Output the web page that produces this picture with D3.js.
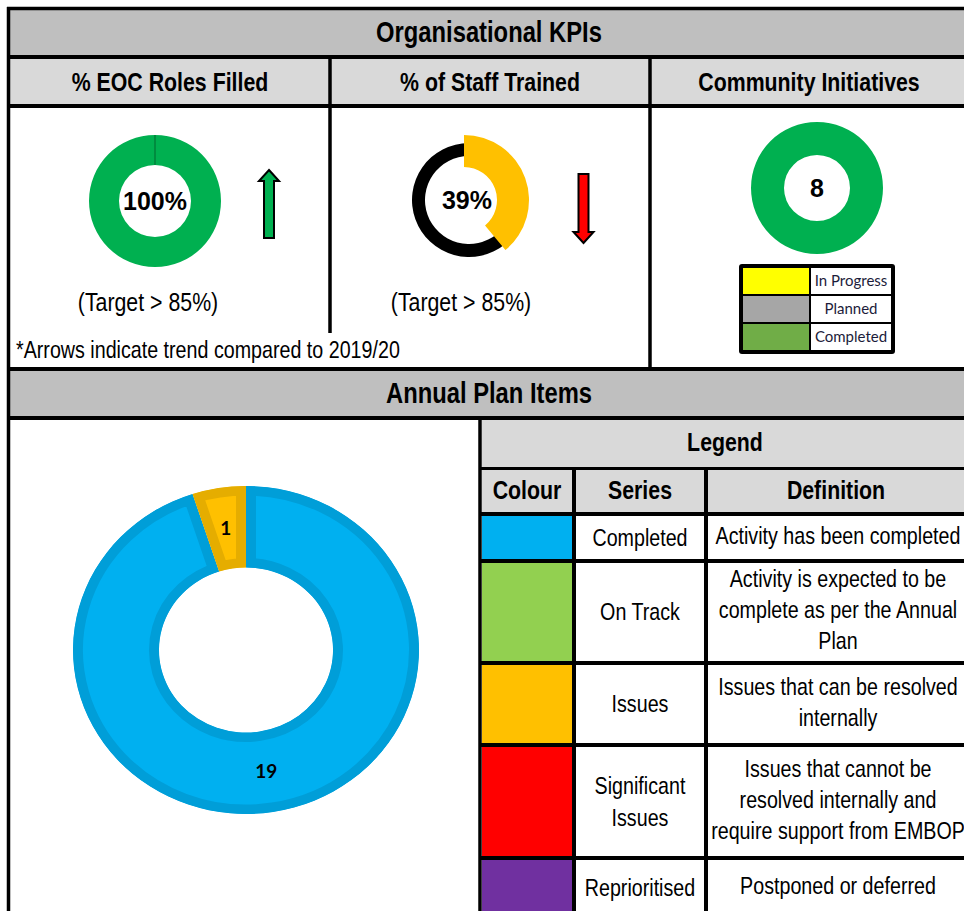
<!DOCTYPE html>
<meta charset="utf-8">
<script src="https://d3js.org/d3.v7.min.js"></script>
<style>
  body { margin: 0; background: #fff; }
</style>
<div id="chart"></div>
<script>

// ---- chart values ----
const sectionTitles = ["Organisational KPIs", "Annual Plan Items"];
const kpiTitles = ["% EOC Roles Filled", "% of Staff Trained", "Community Initiatives"];
const kpiPercent = [100, 39];
const kpiTrend = ["up", "down"];
const kpiTargets = ["(Target > 85%)", "(Target > 85%)"];
const trendNote = "*Arrows indicate trend compared to 2019/20";

const communityStatus = ["In Progress", "Planned", "Completed"];
const communityCounts = [0, 0, 8];
const communityLegendColors = ["#ffff00", "#a6a6a6", "#70ad47"];
const communityRingColors = ["#ffff00", "#a6a6a6", "#00b050"];

const planSeries = ["Completed", "On Track", "Issues", "Significant\nIssues", "Reprioritised"];
const planCounts = [19, 0, 1, 0, 0];
const planColors = ["#00b0f0", "#92d050", "#ffc000", "#ff0000", "#7030a0"];
const planDefinitions = [
  "Activity has been completed",
  "Activity is expected to be\ncomplete as per the Annual\nPlan",
  "Issues that can be resolved\ninternally",
  "Issues that cannot be\nresolved internally and\nrequire support from EMBOP",
  "Postponed or deferred"
];
const legendTitle = "Legend";
const legendHeaders = ["Colour", "Series", "Definition"];

// ---- drawing ----
const W = 964, H = 911;
const svg = d3.select("#chart").append("svg")
  .attr("width", W).attr("height", H)
  .style("display", "block");

svg.append("rect").attr("width", W).attr("height", H).attr("fill", "#fff");

const FONT = "'Liberation Sans', Arial, sans-serif";

// Arial Narrow look: Arial squeezed horizontally
function ntext(x, y, str, size, weight, anchor) {
  return svg.append("text")
    .attr("transform", "translate(" + x + "," + y + ") scale(0.82,1)")
    .attr("text-anchor", anchor || "middle")
    .attr("dy", "0.35em")
    .style("font-family", FONT)
    .style("font-size", size + "px")
    .style("font-weight", weight || "normal")
    .attr("fill", "#000")
    .text(str);
}

function block(x, y, w, h, fill) {
  return svg.append("rect").attr("x", x).attr("y", y)
    .attr("width", w).attr("height", h).attr("fill", fill);
}

// multi-line centred text, lines split on \n
function cellText(cx, cy, str, size, lh) {
  const lines = str.split("\n");
  lines.forEach(function(line, i) {
    ntext(cx, cy + (i - (lines.length - 1) / 2) * lh, line, size);
  });
}

const right = 968;

// top section bands
block(10, 10, right - 10, 45, "#bfbfbf");
block(10, 59, right - 10, 45, "#d9d9d9");
ntext(489, 32, sectionTitles[0], 29, "bold");

const kpiCols = [[10, 330], [330, 650], [650, right]];
kpiTitles.forEach(function(t, i) {
  ntext((kpiCols[i][0] + kpiCols[i][1]) / 2, 81.5, t, 26, "bold");
});

// ---- KPI donuts ----
const pie = d3.pie().sort(null).value(function(d) { return d; });

// EOC roles filled
const eocSlices = pie([kpiPercent[0], 100 - kpiPercent[0]]);
const eocArc = d3.arc().innerRadius(36).outerRadius(66);
const eocG = svg.append("g").attr("transform", "translate(155,201)");
eocG.selectAll("path").data(eocSlices).enter().append("path")
  .attr("d", eocArc)
  .attr("fill", function(d, i) { return i === 0 ? "#00b050" : "none"; })
  .attr("stroke", function(d, i) { return i === 0 ? "none" : "#00803a"; })
  .attr("stroke-width", 1);
eocG.append("text")
  .attr("text-anchor", "middle").attr("dy", "0.35em")
  .style("font-family", FONT).style("font-size", "25px").style("font-weight", "bold")
  .text(kpiPercent[0] + "%");

// staff trained
const staffSlices = pie([kpiPercent[1], 100 - kpiPercent[1]]);
const staffRest = d3.arc().innerRadius(44).outerRadius(57);
const staffPart = d3.arc().innerRadius(33).outerRadius(65);
svg.append("path")
  .attr("transform", "translate(469,200)")
  .attr("d", staffRest(staffSlices[1]))
  .attr("fill", "#000");
svg.append("path")
  .attr("transform", "translate(464,200)")
  .attr("d", staffPart(staffSlices[0]))
  .attr("fill", "#ffc000");
svg.append("text")
  .attr("x", 467).attr("y", 200)
  .attr("text-anchor", "middle").attr("dy", "0.35em")
  .style("font-family", FONT).style("font-size", "25px").style("font-weight", "bold")
  .text(kpiPercent[1] + "%");

// trend arrows
function arrowPath(cx, top, bottom, headW, shaftW, headH, dir) {
  let pts;
  if (dir === "up") {
    pts = [[cx, top], [cx + headW / 2, top + headH], [cx + shaftW / 2, top + headH],
           [cx + shaftW / 2, bottom], [cx - shaftW / 2, bottom],
           [cx - shaftW / 2, top + headH], [cx - headW / 2, top + headH]];
  } else {
    pts = [[cx, bottom], [cx + headW / 2, bottom - headH], [cx + shaftW / 2, bottom - headH],
           [cx + shaftW / 2, top], [cx - shaftW / 2, top],
           [cx - shaftW / 2, bottom - headH], [cx - headW / 2, bottom - headH]];
  }
  return d3.line()(pts) + "Z";
}
const arrowSpots = [[269, 170, 238], [583.5, 174, 243]];
kpiTrend.forEach(function(dir, i) {
  const s = arrowSpots[i];
  svg.append("path")
    .attr("d", arrowPath(s[0], s[1], s[2], 20, 10, 11, dir))
    .attr("fill", dir === "up" ? "#00b050" : "#ff0000")
    .attr("stroke", "#000")
    .attr("stroke-width", 2)
    .attr("stroke-linejoin", "miter");
});

// targets
ntext(148, 302, kpiTargets[0], 26);
ntext(461, 302, kpiTargets[1], 26);

// community initiatives donut
const commSlices = pie(communityCounts);
const commArc = d3.arc().innerRadius(33).outerRadius(66);
const commG = svg.append("g").attr("transform", "translate(817,188)");
commG.selectAll("path").data(commSlices).enter().append("path")
  .attr("d", commArc)
  .attr("fill", function(d, i) { return communityRingColors[i]; });
commG.append("text")
  .attr("text-anchor", "middle").attr("dy", "0.35em")
  .style("font-family", FONT).style("font-size", "25px").style("font-weight", "bold")
  .text(d3.sum(communityCounts));

// small status legend
svg.append("rect").attr("x", 739).attr("y", 264).attr("width", 156).attr("height", 90)
  .attr("rx", 3).attr("fill", "#000");
communityStatus.forEach(function(s, i) {
  const y = 268 + i * 28;
  block(743, y, 66, 26, communityLegendColors[i]);
  block(811, y, 80, 26, "#fff");
  svg.append("text")
    .attr("x", 851).attr("y", y + 13).attr("dy", "0.35em")
    .attr("text-anchor", "middle")
    .style("font-family", "Lato, sans-serif").style("font-size", "15px")
    .attr("fill", "#1c1c3a")
    .text(s);
});

// trend note
block(10, 333, 409, 34, "#fff");
ntext(16, 350, trendNote, 24, "normal", "start");

// ---- annual plan section ----
block(10, 371, right - 10, 45, "#bfbfbf");
ntext(489, 393, sectionTitles[1], 29, "bold");

// plan donut (slightly squashed vertically like the original)
const planSlices = pie(planCounts);
const planArc = d3.arc().innerRadius(87).outerRadius(173);
const squash = 0.948;
const planG = svg.append("g").attr("transform", "translate(246,650) scale(1," + squash + ")");
const defs = svg.append("defs");
planSlices.forEach(function(d, i) {
  if (d.value === 0) return;
  defs.append("clipPath").attr("id", "seg" + i)
    .append("path").attr("d", planArc(d));
  planG.append("path")
    .attr("d", planArc(d))
    .attr("clip-path", "url(#seg" + i + ")")
    .attr("fill", planColors[i])
    .attr("stroke", d3.color(planColors[i]).darker(0.3))
    .attr("stroke-width", 20);
});
planSlices.forEach(function(d) {
  if (d.value === 0) return;
  const c = planArc.centroid(d);
  svg.append("text")
    .attr("x", 246 + c[0]).attr("y", 650 + c[1] * squash)
    .attr("text-anchor", "middle").attr("dy", "0.35em")
    .style("font-family", "Lato, sans-serif").style("font-size", "19px").style("font-weight", "bold")
    .text(d.value);
});

// legend table
const colX = [482, 576, 708, right];
block(482, 420, right - 482, 47, "#d9d9d9");
block(482, 470, right - 482, 42, "#d9d9d9");
ntext(725, 442, legendTitle, 26, "bold");
legendHeaders.forEach(function(h, i) {
  ntext((colX[i] + colX[i + 1] - 4) / 2, 490, h, 26, "bold");
});

const rowTop = [516, 563, 665, 747, 860];
const rowBottom = [559, 661, 743, 856, 915];
planSeries.forEach(function(s, i) {
  const y0 = rowTop[i], y1 = rowBottom[i], cy = (y0 + y1) / 2;
  block(482, y0, 90, y1 - y0, planColors[i]);
  cellText(640, cy, s, 24, 32);
  cellText(838, cy - 2, planDefinitions[i], 24, 31);
});

// ---- grid lines ----
const hLines = [[7, 8.5], [57, 4], [106, 4], [369, 4], [418, 4], [468.5, 3], [514, 4],
                [561, 4], [663, 4], [745, 4], [858, 4]];
hLines.forEach(function(l, i) {
  const x0 = i >= 5 ? 480 : 7;
  svg.append("line").attr("x1", x0).attr("x2", W)
    .attr("y1", l[0] === 7 ? 8.5 : l[0]).attr("y2", l[0] === 7 ? 8.5 : l[0])
    .attr("stroke", "#000").attr("stroke-width", l[0] === 7 ? 3.5 : l[1]);
});
const vLines = [[8.5, 7, H, 3.5], [330, 57, 333, 3.5], [650, 57, 369, 3.5],
                [480, 418, H, 3.5], [574, 468, H, 4], [706, 468, H, 4]];
vLines.forEach(function(l) {
  svg.append("line").attr("x1", l[0]).attr("x2", l[0])
    .attr("y1", l[1]).attr("y2", l[2])
    .attr("stroke", "#000").attr("stroke-width", l[3]);
});

</script>
